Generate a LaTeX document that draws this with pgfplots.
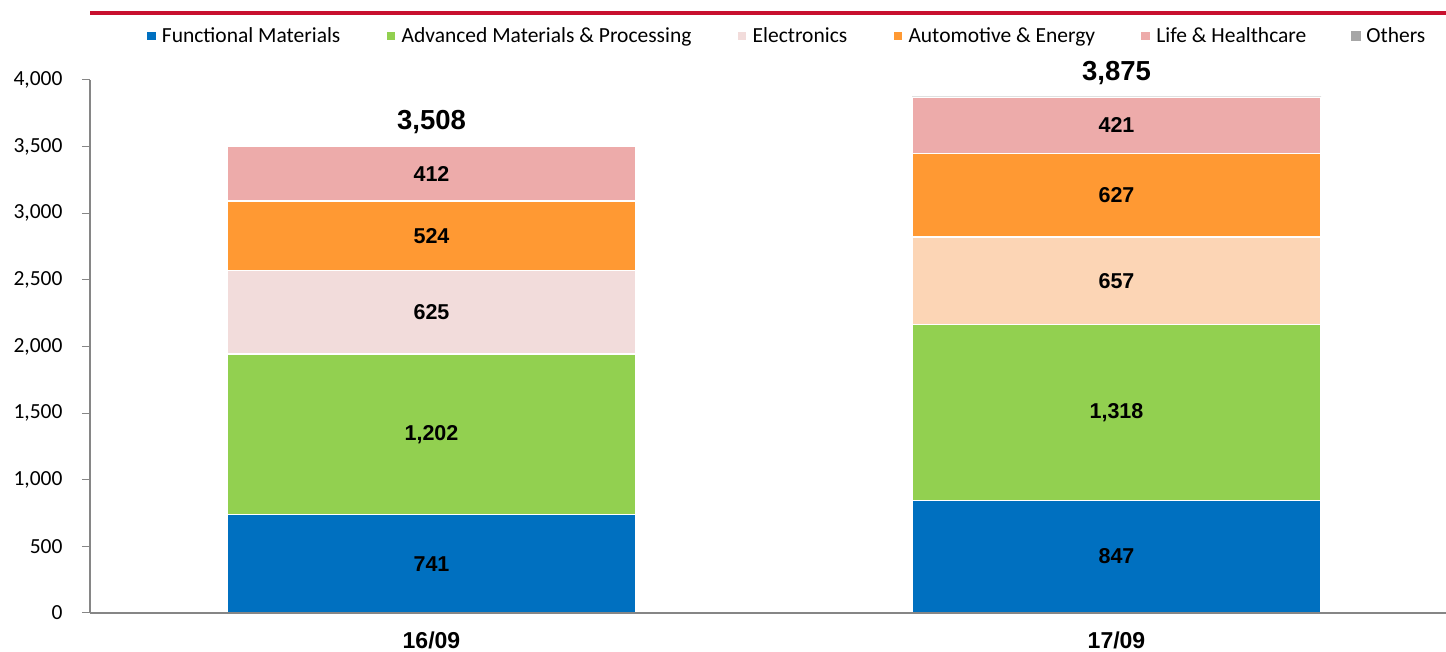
\documentclass[border=0pt]{standalone}
\usepackage{pgfplots}
\pgfplotsset{compat=1.18}
\usepackage{fontspec}
\setmainfont{Carlito}
\newfontfamily\arialfont{Liberation Sans}
\definecolor{cFunc}{HTML}{0070C0}
\definecolor{cAdv}{HTML}{92D050}
\definecolor{cElA}{HTML}{F2DCDB}
\definecolor{cElB}{HTML}{FCD5B5}
\definecolor{cAuto}{HTML}{FF9933}
\definecolor{cLife}{HTML}{EDABAA}
\definecolor{cOth}{HTML}{A6A6A6}
\definecolor{cAx}{HTML}{868686}
\definecolor{cRed}{RGB}{200,16,46}
\tikzset{lbl/.style={font=\arialfont\bfseries\fontsize{21.5}{24}\selectfont, inner sep=0pt},
         tot/.style={font=\arialfont\bfseries\fontsize{27.5}{30}\selectfont, inner sep=0pt}}
\begin{document}
\begin{tikzpicture}
\path[use as bounding box] (0,0) rectangle (1446pt,652pt);
\begin{axis}[
  at={(90pt,39pt)}, anchor=south west,
  scale only axis, width=1356pt, height=533pt,
  ybar stacked, bar width=409pt,
  xmin=-0.4985, xmax=1.481, ymin=0, ymax=4000,
  clip=false, axis on top,
  axis lines=left,
  axis line style={cAx, line width=1.3pt, -},
  ytick={0,500,...,4000},
  xtick={0,1}, xticklabels={16/09,17/09},
  tick align=outside, major tick length=8pt,
  y tick style={cAx, line width=1pt},
  x tick style={draw=none},
  /pgf/number format/.cd, 1000 sep={,}, assume math mode=true, /pgfplots/.cd,
  yticklabel style={font=\fontsize{21.5}{24}\selectfont, xshift=-16pt},
  xticklabel style={font=\arialfont\bfseries\fontsize{23}{26}\selectfont, anchor=center, yshift=-19pt},
  every axis plot/.append style={draw=white, line width=1.2pt},
  legend columns=6,
  legend cell align=left,
  legend image code/.code={\fill[#1] (0pt,-5pt) rectangle (10pt,5pt);},
  legend style={draw=none, fill=none, at={(0.5137,1.0825)}, anchor=center,
    font=\fontsize{21.5}{24}\selectfont,
    /tikz/every odd column/.append style={column sep=3pt},
    /tikz/every even column/.append style={column sep=43pt}},
  after end axis/.code={
    \node[lbl] at (axis cs:0,370.5) {741};
    \node[lbl] at (axis cs:0,1342) {1,202};
    \node[lbl] at (axis cs:0,2255.5) {625};
    \node[lbl] at (axis cs:0,2830) {524};
    \node[lbl] at (axis cs:0,3298) {412};
    \node[tot] at (axis cs:0,3685) {3,508};
    \node[lbl] at (axis cs:1,423.5) {847};
    \node[lbl] at (axis cs:1,1506) {1,318};
    \node[lbl] at (axis cs:1,2493.5) {657};
    \node[lbl] at (axis cs:1,3135.5) {627};
    \node[lbl] at (axis cs:1,3659.5) {421};
    \node[tot] at (axis cs:1,4052) {3,875};
    \draw[cRed, line width=3.2pt] (axis description cs:0,1.1257) -- (axis description cs:1,1.1257);
  },
]
\addplot[fill=cFunc] coordinates {(0,741) (1,847)};
\addlegendentry{Functional Materials}
\addplot[fill=cAdv] coordinates {(0,1202) (1,1318)};
\addlegendentry{Advanced Materials \& Processing}
\addplot[fill=cElA] coordinates {(0,625) (1,0)};
\addlegendentry{Electronics}
\addplot[fill=cElB, forget plot] coordinates {(0,0) (1,657)};
\addplot[fill=cAuto] coordinates {(0,524) (1,627)};
\addlegendentry{Automotive \& Energy}
\addplot[fill=cLife] coordinates {(0,412) (1,421)};
\addlegendentry{Life \& Healthcare}
\addplot[fill=cOth, draw=none] coordinates {(0,4) (1,5)};
\addlegendentry{Others}
\end{axis}
\end{tikzpicture}
\end{document}
